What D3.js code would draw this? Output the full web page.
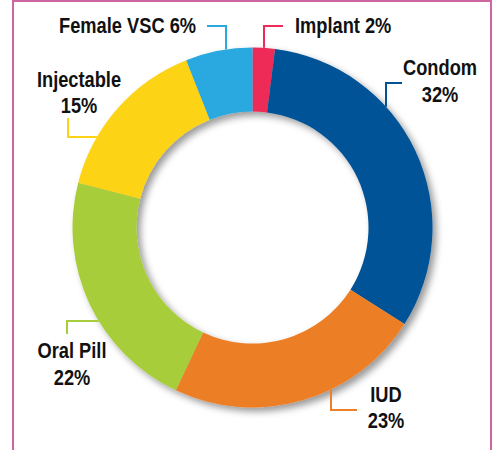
<!DOCTYPE html>
<html>
<head>
<meta charset="utf-8">
<script src="https://cdn.jsdelivr.net/npm/d3@7"></script>
<style>
  html, body { margin: 0; padding: 0; background: #fff; }
  svg { display: block; }
  .lbl { font-family: "Liberation Sans", Arial, sans-serif;
         font-weight: bold; font-size: 22px; fill: #111; }
</style>
</head>
<body>
<div id="chart"></div>
<script>
// method mix (%), clockwise from 12 o'clock
const methods = ['Implant', 'Condom', 'IUD', 'Oral Pill', 'Injectable', 'Female VSC'];
const shares = [2, 32, 23, 22, 15, 6];
const colors = ['#ee2b56', '#035296', '#ec7f28', '#a8cd3a', '#fdd316', '#29a9e0'];

const width = 492, height = 450;
const cx = 252.5, cy = 227.5;
const rOuter = 180, rInner = 116;
// no condensed face installed, so squeeze the regular one
const squeeze = 0.83;

const svg = d3.select('#chart').append('svg')
  .attr('width', width)
  .attr('height', height);

// frame
svg.append('path')
  .attr('d', 'M13,' + height + ' V1 H491 V' + height)
  .style('fill', 'none')
  .style('stroke', '#cd66a0')
  .style('stroke-width', 2);

// soft drop shadow under the ring
const defs = svg.append('defs');
const f = defs.append('filter').attr('id', 'shadow')
  .attr('x', '-20%').attr('y', '-20%').attr('width', '140%').attr('height', '140%');
f.append('feDropShadow')
  .attr('dx', 4).attr('dy', 4)
  .attr('stdDeviation', 3.5)
  .attr('flood-color', '#000')
  .attr('flood-opacity', 0.4);

const data = methods.map(function(m, i) {
  return {name: m, value: shares[i], color: colors[i]};
});

const pie = d3.pie()
  .value(function(d) { return d.value; })
  .sort(null);

const arc = d3.arc()
  .innerRadius(rInner)
  .outerRadius(rOuter);

const arcs = pie(data);

const g = svg.append('g')
  .attr('transform', 'translate(' + cx + ',' + cy + ')');

g.append('g')
  .attr('filter', 'url(#shadow)')
  .selectAll('path')
  .data(arcs)
  .enter().append('path')
  .attr('d', arc)
  .style('fill', function(d) { return d.data.color; });

// label layout: leader elbow goes from a point on the ring to the text
// kind 'v' = leader leaves the ring vertically at x; 'h' = horizontally at y
const labelLayout = {
  'Implant':    {kind: 'v', at: 264, elbow: 26, tip: 283, lines: ['Implant 2%'], tx: 295, ty: [33], anchor: 'start'},
  'Female VSC': {kind: 'v', at: 226, elbow: 26, tip: 207, lines: ['Female VSC 6%'], tx: 196, ty: [33], anchor: 'end'},
  'Condom':     {kind: 'v', at: 386, elbow: 83, tip: 402, lines: ['Condom', '32%'], tx: 440, ty: [75, 102], anchor: 'middle'},
  'IUD':        {kind: 'v', at: 331, elbow: 410, tip: 357, lines: ['IUD', '23%'], tx: 386, ty: [402, 428], anchor: 'middle'},
  'Oral Pill':  {kind: 'h', at: 321, elbow: 67, tip: 334, lines: ['Oral Pill', '22%'], tx: 72, ty: [358, 385], anchor: 'middle'},
  'Injectable': {kind: 'h', at: 137, elbow: 68, tip: 118, lines: ['Injectable', '15%'], tx: 79, ty: [87, 113], anchor: 'middle'}
};

arcs.forEach(function(d) {
  const L = labelLayout[d.data.name];
  const mid = (d.startAngle + d.endAngle) / 2;
  let pts;
  if (L.kind === 'v') {
    const dx = L.at - cx;
    const dy = Math.sqrt(rOuter * rOuter - dx * dx);
    const yRing = Math.cos(mid) > 0 ? cy - dy : cy + dy;
    pts = [[L.at, yRing], [L.at, L.elbow], [L.tip, L.elbow]];
  } else {
    const dy = L.at - cy;
    const dx = Math.sqrt(rOuter * rOuter - dy * dy);
    const xRing = Math.sin(mid) > 0 ? cx + dx : cx - dx;
    pts = [[xRing, L.at], [L.elbow, L.at], [L.elbow, L.tip]];
  }
  svg.append('path')
    .attr('d', d3.line()(pts))
    .style('fill', 'none')
    .style('stroke', d.data.color)
    .style('stroke-width', 2);

  const t = svg.append('text')
    .attr('class', 'lbl')
    .attr('transform', 'translate(' + L.tx + ',0) scale(' + squeeze + ',1)')
    .attr('text-anchor', L.anchor);
  L.lines.forEach(function(s, i) {
    t.append('tspan')
      .attr('x', 0)
      .attr('y', L.ty[i])
      .text(s);
  });
});
</script>
</body>
</html>
